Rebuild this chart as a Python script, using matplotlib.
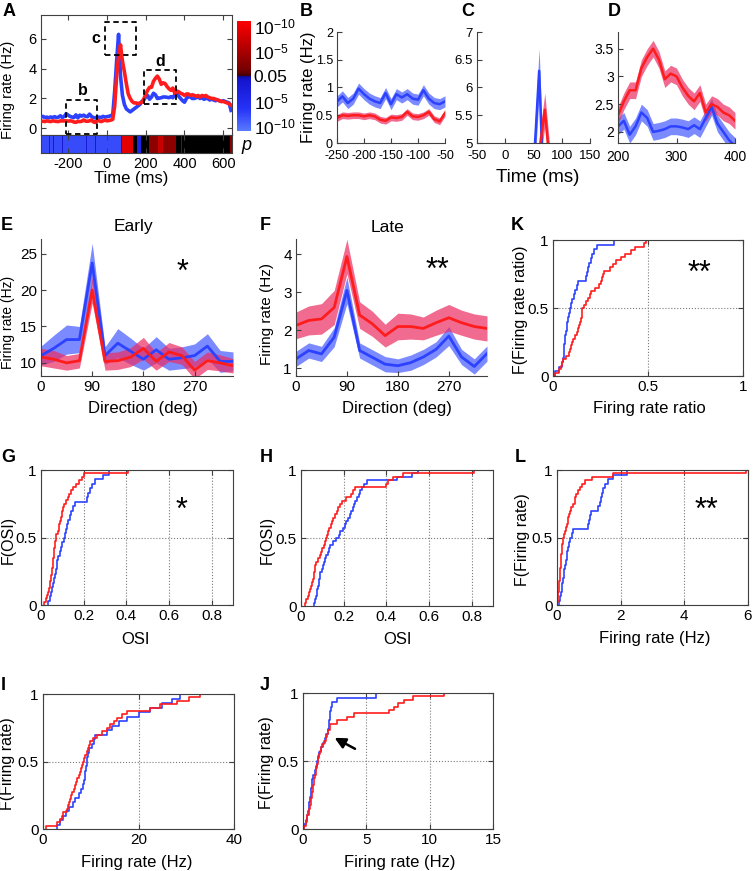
import numpy as np
import matplotlib
matplotlib.use("Agg")
import matplotlib.pyplot as plt
from matplotlib import font_manager
from matplotlib.colors import LinearSegmentedColormap, Normalize
from matplotlib.ticker import FuncFormatter

# ---------------- DATA ----------------
time_ms = np.arange(-340, 650, 10)  # 10-ms bins
rate_blue = [0.75, 0.8, 0.72, 0.75, 0.7, 0.76, 0.72, 0.78, 0.72,
             0.75, 0.84, 0.72, 0.8, 0.98, 0.88, 0.8, 0.75, 0.72, 0.9, 0.7, 0.88, 0.82, 0.88, 0.8, 0.78, 0.95, 0.8, 0.72, 0.7, 0.75,
             0.75, 0.72, 0.8, 0.75, 0.78, 0.8, 0.85, 0.9,
             2.5, 4.5, 6.3, 3.5, 2.2, 1.6, 1.3, 1.2, 1.1, 1.2, 1.3, 1.4, 1.5, 1.6, 1.8, 1.9,
             2.1, 2.2, 1.95, 2.1, 2.35, 2.25, 2.0, 2.02, 2.05, 2.1, 2.1, 2.08, 2.05, 2.12, 2.05, 2.25, 2.45, 2.15, 2.0, 1.85, 1.75,
             2.0, 2.15, 2.1, 2.0, 2.0, 2.05, 2.1, 2.0, 2.05, 1.95, 2.0, 2.0, 1.9, 1.95, 1.9, 1.85, 1.9, 1.85, 1.8, 1.85, 1.8, 1.75, 1.7, 1.2]
rate_red = [0.45, 0.48, 0.45, 0.5, 0.47, 0.45, 0.5, 0.48, 0.46,
            0.45, 0.5, 0.49, 0.5, 0.5, 0.48, 0.5, 0.48, 0.42, 0.4, 0.46, 0.45, 0.47, 0.56, 0.48, 0.47, 0.5, 0.56, 0.43, 0.39, 0.54,
            0.5, 0.45, 0.5, 0.55, 0.5, 0.52, 0.55, 0.6,
            1.5, 3.5, 4.8, 5.6, 4.5, 3.8, 3.0, 2.3, 2.0, 1.8, 1.7, 1.7, 1.65, 1.7, 1.75, 1.95,
            2.3, 2.55, 2.75, 2.75, 3.15, 3.35, 3.5, 3.3, 2.95, 3.05, 3.0, 2.8, 2.65, 2.55, 2.7, 2.35, 2.5, 2.45, 2.35, 2.3, 2.2,
            2.3, 2.3, 2.2, 2.25, 2.2, 2.15, 2.2, 2.1, 2.2, 2.15, 2.2, 2.1, 2.05, 2.0, 2.0, 1.95, 1.9, 1.85, 1.8, 1.8, 1.75, 1.7, 1.65, 1.55]
sem_edges = [-340, 35, 95, 195, 405, 650]
sem_blue_win = [0.1, 0.4, 0.15, 0.15, 0.12]
sem_red_win = [0.06, 0.3, 0.12, 0.15, 0.12]

# significance strip: signed -log10(p) (+ red>blue, - blue>red); 0 = n.s.
strip_edges = [-340, -300, -295, -280, -275, -230, -225, -110, -105, -60, -55, 75, 80, 135, 155, 175, 215, 265, 290, 355, 380, 385, 635, 645]
strip_vals = [-8, -2, -8, -1.5, -8, -1.5, -8, -2, -8, -1.5, -8, 3, 9, 0, -4, 0, 3, 7, 3, 0.5, 3, 0, 3]

directions = [0, 22.5, 45, 67.5, 90, 112.5, 135, 157.5, 180, 202.5, 225, 247.5, 270, 292.5, 315, 337.5]
early_blue = [11, 12, 13.2, 13.2, 23.7, 11.0, 12.7, 11.6, 10.5, 11.8, 10.5, 10.7, 11, 12.3, 10.2, 10.2]
early_blue_sem = [1.3, 1.8, 2.0, 1.8, 2.7, 1.2, 2.0, 1.8, 1.5, 1.8, 1.5, 1.5, 1.6, 1.7, 1.5, 1.3]
early_red = [10.8, 10.5, 10.0, 10.3, 20, 10.2, 10.3, 10.8, 12, 10.2, 11.5, 11, 9, 10.3, 10, 9.6]
early_red_sem = [1.2, 1.2, 1.0, 1.0, 1.8, 1.2, 1.2, 1.3, 1.5, 1.2, 1.3, 1.2, 1.2, 1.2, 1.1, 1.0]
late_red = [2.13, 2.26, 2.3, 2.6, 3.94, 2.4, 2.17, 1.86, 2.1, 2.1, 2.05, 2.2, 2.33, 2.2, 2.1, 2.05]
late_red_sem = [0.35, 0.38, 0.4, 0.45, 0.45, 0.35, 0.33, 0.3, 0.35, 0.33, 0.3, 0.33, 0.35, 0.33, 0.33, 0.33]
late_blue = [1.25, 1.47, 1.38, 1.82, 3.05, 1.47, 1.29, 1.11, 1.07, 1.15, 1.3, 1.5, 1.85, 1.3, 1.05, 1.39]
late_blue_sem = [0.2, 0.2, 0.2, 0.25, 0.35, 0.2, 0.2, 0.2, 0.18, 0.2, 0.2, 0.2, 0.25, 0.2, 0.2, 0.2]

osi_early_blue = [0.035, 0.04, 0.045, 0.05, 0.055, 0.06, 0.065, 0.07, 0.073, 0.077, 0.082, 0.087, 0.093, 0.1, 0.106,
                  0.112, 0.118, 0.123, 0.128, 0.135, 0.142, 0.15, 0.16, 0.215, 0.22, 0.228, 0.24, 0.255, 0.29, 0.32]
osi_early_red = [0.015, 0.025, 0.03, 0.035, 0.038, 0.04, 0.043, 0.045, 0.047, 0.05, 0.052, 0.054, 0.056, 0.058, 0.06,
                 0.062, 0.063, 0.065, 0.066, 0.068, 0.072, 0.078, 0.083, 0.086, 0.09, 0.093, 0.097, 0.1, 0.105, 0.11,
                 0.117, 0.125, 0.132, 0.14, 0.15, 0.165, 0.18, 0.19, 0.2, 0.41]
osi_late_blue = [0.062, 0.066, 0.07, 0.073, 0.076, 0.08, 0.083, 0.086, 0.088, 0.091, 0.097, 0.103, 0.108, 0.112, 0.118,
                 0.125, 0.13, 0.137, 0.148, 0.165, 0.178, 0.185, 0.195, 0.205, 0.213, 0.22, 0.228, 0.235, 0.242, 0.248,
                 0.254, 0.262, 0.27, 0.277, 0.285, 0.295, 0.31, 0.45, 0.52, 0.55]
osi_late_red = [0.018, 0.025, 0.032, 0.038, 0.043, 0.048, 0.052, 0.056, 0.06, 0.063, 0.065, 0.067, 0.072, 0.08, 0.088,
                0.095, 0.1, 0.107, 0.113, 0.118, 0.123, 0.128, 0.133, 0.14, 0.145, 0.15, 0.158, 0.167, 0.175, 0.183,
                0.19, 0.21, 0.235, 0.245, 0.255, 0.4, 0.41, 0.43, 0.48, 0.81]
ratio_blue = [0.01, 0.03, 0.045, 0.052, 0.056, 0.058, 0.06, 0.062, 0.065, 0.068, 0.072, 0.075, 0.08, 0.084, 0.088,
              0.093, 0.1, 0.11, 0.118, 0.125, 0.13, 0.175, 0.18, 0.185, 0.192, 0.198, 0.205, 0.215, 0.23, 0.32]
ratio_red = [0.01, 0.03, 0.04, 0.045, 0.05, 0.07, 0.085, 0.09, 0.095, 0.1, 0.105, 0.115, 0.125, 0.13, 0.138, 0.142,
             0.147, 0.15, 0.153, 0.155, 0.165, 0.175, 0.185, 0.193, 0.2, 0.22, 0.24, 0.25, 0.258, 0.265, 0.27, 0.3,
             0.315, 0.33, 0.36, 0.38, 0.41, 0.43, 0.48, 0.49]
late_rate_blue = [0.07, 0.1, 0.13, 0.15, 0.17, 0.19, 0.21, 0.23, 0.25, 0.27, 0.3, 0.32, 0.34, 0.38, 0.42, 0.46, 0.5,
                  0.98, 1.02, 1.05, 1.08, 1.3, 1.35, 1.38, 1.4, 1.45, 1.5, 1.6, 1.75, 2.2]
late_rate_red = [0.01, 0.02, 0.03, 0.04, 0.05, 0.06, 0.07, 0.08, 0.09, 0.095, 0.1, 0.11, 0.12, 0.13, 0.14, 0.15, 0.16,
                 0.17, 0.18, 0.19, 0.21, 0.24, 0.27, 0.3, 0.33, 0.35, 0.38, 0.42, 0.45, 0.5, 0.55, 0.58, 0.6, 0.66,
                 0.72, 0.8, 0.88, 1.1, 1.76, 5.95]
peak_rate_blue = [3.0, 3.5, 4.2, 4.8, 5.5, 6.2, 6.8, 7.5, 8.0, 8.3, 8.5, 8.7, 8.9, 9.0, 9.2, 9.3, 9.5, 9.7, 10.2, 10.6,
                  10.9, 13.4, 14.5, 16.0, 17.6, 20.0, 22.4, 25.0, 27.0, 28.7]
peak_rate_red = [0.7, 2.9, 3.5, 4.0, 4.2, 5.0, 5.2, 5.4, 5.6, 5.9, 6.1, 6.4, 6.7, 7.0, 7.2, 7.5, 7.7, 7.9, 8.1, 8.3,
                 8.6, 8.9, 9.2, 9.5, 9.7, 9.9, 10.5, 11.3, 12.3, 13.4, 14.0, 14.8, 15.5, 16.5, 17.6, 22.4, 24.5, 28.0,
                 30.5, 32.9]
base_rate_blue = [0.1, 0.25, 0.35, 0.4, 0.45, 0.5, 0.55, 0.6, 0.65, 0.7, 0.72, 0.8, 0.97, 1.0, 1.1, 1.16, 1.3, 1.45,
                  1.55, 1.7, 1.8, 1.95, 2.05, 2.08, 2.1, 2.15, 2.2, 2.3, 2.7, 5.8]
base_rate_red = [0.1, 0.2, 0.3, 0.35, 0.45, 0.5, 0.55, 0.6, 0.65, 0.68, 0.71, 0.75, 0.8, 0.85, 0.89, 0.95, 1.0, 1.05,
                 1.1, 1.15, 1.2, 1.24, 1.35, 1.45, 1.5, 1.65, 1.8, 1.9, 2.0, 2.1, 2.16, 2.7, 3.5, 4.0, 6.8, 7.2, 7.5,
                 8.0, 8.7, 11.1]

# ---------------- STYLE ----------------
W, H = 753, 871
names = {f.name for f in font_manager.fontManager.ttflist}
MAIN = 'Liberation Sans' if 'Liberation Sans' in names else 'DejaVu Sans'
NARROW = 'Liberation Sans Narrow' if 'Liberation Sans Narrow' in names else MAIN
plt.rcParams['font.family'] = [MAIN, 'DejaVu Sans']
plt.rcParams['mathtext.fontset'] = 'custom'
plt.rcParams['mathtext.rm'] = MAIN
plt.rcParams['mathtext.it'] = MAIN + ':italic'
plt.rcParams['axes.unicode_minus'] = False

BLUE = '#2c42ff'
RED = '#ff1c1c'
BLUE_BAND = '#4458ff'
RED_BAND = '#ec2c62'
SPINE = '#404040'

fig = plt.figure(figsize=(W / 100, H / 100), dpi=100)


def px_axes(l, t, r, b):
    return fig.add_axes([l / W, 1 - b / H, (r - l) / W, (b - t) / H])


def ftext(x, y, s, **kw):
    return fig.text(x / W, 1 - y / H, s, **kw)


gfmt = FuncFormatter(lambda v, p: '%g' % v)


def style(ax, box=True, fs=10.5, family=MAIN, xpad=3):
    for s in ax.spines.values():
        s.set_color(SPINE)
        s.set_linewidth(0.8)
    if not box:
        ax.spines['top'].set_visible(False)
        ax.spines['right'].set_visible(False)
    ax.tick_params(direction='in', length=3.5, width=0.8, labelsize=fs, color=SPINE,
                   labelcolor='black', top=box, right=box, pad=3)
    ax.tick_params(axis='x', pad=xpad)
    ax.xaxis.set_major_formatter(gfmt)
    ax.yaxis.set_major_formatter(gfmt)
    for lab in ax.get_xticklabels() + ax.get_yticklabels():
        lab.set_family(family)


def letter(x, y, s):
    ftext(x, y, s, fontsize=13, fontweight='bold', ha='left', va='center')


def cdf_step(ax, samples, color):
    x = np.sort(np.asarray(samples, dtype=float))
    n = len(x)
    xs = np.concatenate([[x[0]], x])
    ys = np.concatenate([[0.0], np.arange(1, n + 1) / n])
    ax.step(xs, ys, where='post', color=color, lw=1.2)


t = np.asarray(time_ms, dtype=float)
rb = np.asarray(rate_blue)
rr = np.asarray(rate_red)
idx = np.clip(np.digitize(t, sem_edges) - 1, 0, len(sem_blue_win) - 1)
sb = np.asarray(sem_blue_win)[idx]
sr = np.asarray(sem_red_win)[idx]

# ---------------- PANEL A ----------------
axA = px_axes(41, 15, 232, 135)
axA.plot(t, rb, color=BLUE, lw=2.6, zorder=3)
axA.plot(t, rr, color=RED, lw=2.6, zorder=4)
axA.set_xlim(-340, 645)
axA.set_ylim(-0.45, 7.6)
axA.set_yticks([0, 2, 4, 6])
axA.set_xticks([-200, 0, 200, 400, 600])
style(axA, box=True, fs=10.5)
axA.tick_params(labelbottom=False)
for (x0, x1, y0, y1, lab, lx, ly) in [(-213, -49, -0.4, 1.9, 'b', -126, 2.55),
                                      (-10, 152, 4.9, 7.1, 'c', -55, 6.0),
                                      (189, 354, 1.65, 3.9, 'd', 274, 4.5)]:
    axA.plot([x0, x1, x1, x0, x0], [y0, y0, y1, y1, y0], ls=(0, (3, 2)), color='black', lw=1.3, zorder=5)
    axA.text(lx, ly, lab, fontsize=11.5, fontweight='bold', ha='center', va='center')

cmap = LinearSegmentedColormap.from_list('pmap', [(0.0, (0.35, 0.48, 1.0)),
                                                  (0.2, (0.15, 0.2, 0.97)),
                                                  (0.47, (0.08, 0.08, 0.8)),
                                                  (0.5, (0.05, 0.05, 0.6)),
                                                  (0.5001, (0.25, 0.0, 0.0)),
                                                  (0.55, (0.45, 0.0, 0.0)),
                                                  (1.0, (1.0, 0.0, 0.0))])
cmap.set_bad('black')
norm = Normalize(-11, 11)
axS = px_axes(41, 135, 232, 153)
sv = np.ma.masked_where(np.abs(np.asarray(strip_vals, dtype=float)) < 1.3, np.asarray(strip_vals, dtype=float))
axS.pcolormesh(strip_edges, [0, 1], sv[None, :], cmap=cmap, norm=norm, shading='flat')
axS.set_xlim(-340, 645)
axS.set_ylim(0, 1)
axS.set_xticks([-200, 0, 200, 400, 600])
axS.set_yticks([])
style(axS, box=True, fs=10.5)
axS.tick_params(left=False, right=False)

axC = px_axes(237, 21, 251, 131)
grad = np.linspace(-11, 11, 256)[:, None]
axC.imshow(grad, cmap=cmap, norm=norm, aspect='auto', origin='lower', extent=[0, 1, -11, 11])
axC.set_xticks([])
axC.yaxis.tick_right()
axC.set_yticks([-10, -5, 0, 5, 10])
axC.set_yticklabels([r'$10^{-10}$', r'$10^{-5}$', '0.05', r'$10^{-5}$', r'$10^{-10}$'])
axC.tick_params(length=0, labelsize=12.5, pad=2)
for s in axC.spines.values():
    s.set_visible(False)
ftext(246, 146, 'p', fontsize=13, style='italic', ha='center', va='center')
ftext(8, 90, 'Firing rate (Hz)', rotation=90, fontsize=10.5, ha='center', va='center')
ftext(131, 179, 'Time (ms)', fontsize=12, ha='center', va='center')
letter(3, 12, 'A')


# ---------------- PANELS B, C, D ----------------
def window_plot(ax, lo, hi):
    m = (t >= lo) & (t <= hi)
    ax.fill_between(t[m], rb[m] - sb[m], rb[m] + sb[m], color=BLUE_BAND, alpha=0.7, lw=0)
    ax.fill_between(t[m], rr[m] - sr[m], rr[m] + sr[m], color=RED_BAND, alpha=0.7, lw=0)
    ax.plot(t[m], rb[m], color=BLUE, lw=1.8)
    ax.plot(t[m], rr[m], color=RED, lw=1.8)


axB = px_axes(337, 32, 445, 143)
window_plot(axB, -250, -50)
axB.set_xlim(-250, -50)
axB.set_ylim(0, 2)
axB.set_xticks([-250, -200, -150, -100, -50])
axB.set_yticks([0, 0.5, 1, 1.5, 2])
style(axB, box=False, fs=9, family=NARROW, xpad=5)
ftext(309, 87, 'Firing rate (Hz)', rotation=90, fontsize=12, family=NARROW, ha='center', va='center')
letter(300, 12, 'B')

axCc = px_axes(477, 32, 590, 143)
window_plot(axCc, -50, 150)
axCc.set_xlim(-50, 150)
axCc.set_ylim(5, 7)
axCc.set_xticks([-50, 0, 50, 100, 150])
axCc.set_yticks([5, 5.5, 6, 6.5, 7])
style(axCc, box=False, fs=9.5, family=NARROW, xpad=5)
ftext(538, 177, 'Time (ms)', fontsize=13.5, family=NARROW, ha='center', va='center')
letter(461, 12, 'C')

axD = px_axes(618, 32, 735, 143)
window_plot(axD, 200, 400)
axD.set_xlim(200, 400)
axD.set_ylim(1.8, 3.8)
axD.set_xticks([200, 300, 400])
axD.set_yticks([2, 2.5, 3, 3.5])
style(axD, box=False, fs=10, family=NARROW, xpad=5)
letter(608, 12, 'D')


# ---------------- PANELS E, F ----------------
def tuning(ax, red, red_sem, blue, blue_sem):
    d = np.asarray(directions)
    b, bs = np.asarray(blue), np.asarray(blue_sem)
    r, rs = np.asarray(red), np.asarray(red_sem)
    ax.fill_between(d, b - bs, b + bs, color=BLUE_BAND, alpha=0.7, lw=0)
    ax.fill_between(d, r - rs, r + rs, color=RED_BAND, alpha=0.7, lw=0)
    ax.plot(d, b, color=BLUE, lw=2)
    ax.plot(d, r, color=RED, lw=2)
    ax.set_xlim(0, 337.5)
    ax.set_xticks([0, 90, 180, 270])


axE = px_axes(41, 239, 233, 376)
tuning(axE, early_red, early_red_sem, early_blue, early_blue_sem)
axE.set_ylim(8.2, 27)
axE.set_yticks([10, 15, 20, 25])
style(axE, box=False, fs=11)
axE.text(248, 22.3, '*', fontsize=22, ha='center', va='center')
ftext(8, 322, 'Firing rate (Hz)', rotation=90, fontsize=10, ha='center', va='center')
ftext(143, 408, 'Direction (deg)', fontsize=12, ha='center', va='center')
ftext(133, 227, 'Early', fontsize=12.5, ha='center', va='center')
letter(1, 225, 'E')

axF = px_axes(296, 239, 487, 376)
tuning(axF, late_red, late_red_sem, late_blue, late_blue_sem)
axF.set_ylim(0.8, 4.4)
axF.set_yticks([1, 2, 3, 4])
style(axF, box=False, fs=11)
axF.text(250, 3.55, '**', fontsize=22, ha='center', va='center')
ftext(267, 314, 'Firing rate (Hz)', rotation=90, fontsize=11, ha='center', va='center')
ftext(397, 408, 'Direction (deg)', fontsize=12, ha='center', va='center')
ftext(388, 227, 'Late', fontsize=12.5, ha='center', va='center')
letter(260, 225, 'F')


# ---------------- CDF PANELS ----------------
def cdf_panel(rect, red, blue, xlim, xticks, ylab, ylab_x, xlab, xlab_xy, let, let_xy, star=None):
    ax = px_axes(*rect)
    ax.grid(True, ls=':', color='#7a7a7a', lw=0.8)
    ax.set_axisbelow(True)
    cdf_step(ax, blue, BLUE)
    cdf_step(ax, red, RED)
    ax.set_xlim(*xlim)
    ax.set_ylim(0, 1)
    ax.set_xticks(xticks)
    ax.set_yticks([0, 0.5, 1])
    style(ax, box=True, fs=11)
    cy = (rect[1] + rect[3]) / 2
    ftext(ylab_x, cy + 2, ylab, rotation=90, fontsize=11.5, ha='center', va='center')
    ftext(xlab_xy[0], xlab_xy[1], xlab, fontsize=12, ha='center', va='center')
    letter(let_xy[0], let_xy[1], let)
    if star is not None:
        ax.text(star[0], star[1], star[2], fontsize=22, ha='center', va='center')
    return ax


cdf_panel((553, 240, 743, 376), ratio_red, ratio_blue, (0, 1), [0, 0.5, 1], 'F(Firing rate ratio)', 520,
          'Firing rate ratio', (649, 408), 'K', (511, 225), (0.77, 0.75, '**'))
cdf_panel((41, 470, 233, 605), osi_early_red, osi_early_blue, (0, 0.9), [0, 0.2, 0.4, 0.6, 0.8], 'F(OSI)', 8,
          'OSI', (136, 639), 'G', (1, 457), (0.66, 0.7, '*'))
cdf_panel((301, 470, 493, 606), osi_late_red, osi_late_blue, (0, 0.9), [0, 0.2, 0.4, 0.6, 0.8], 'F(OSI)', 267,
          'OSI', (397, 639), 'H', (260, 457))
cdf_panel((557, 470, 748, 605), late_rate_red, late_rate_blue, (0, 6), [0, 2, 4, 6], 'F(Firing rate)', 522,
          'Firing rate (Hz)', (655, 638), 'L', (515, 457), (4.7, 0.7, '**'))
cdf_panel((43, 694, 234, 829), peak_rate_red, peak_rate_blue, (0, 40), [0, 20, 40], 'F(Firing rate)', 8,
          'Firing rate (Hz)', (137, 862), 'I', (1, 685))
axJ = cdf_panel((303, 693, 493, 829), base_rate_red, base_rate_blue, (0, 15), [0, 5, 10, 15], 'F(Firing rate)', 267,
                'Firing rate (Hz)', (400, 862), 'J', (260, 685))
axJ.annotate('', xy=(2.3, 0.68), xytext=(4.3, 0.58),
             arrowprops=dict(arrowstyle='-|>', color='black', lw=1.8, mutation_scale=16))

fig.savefig('out.png', dpi=100)
